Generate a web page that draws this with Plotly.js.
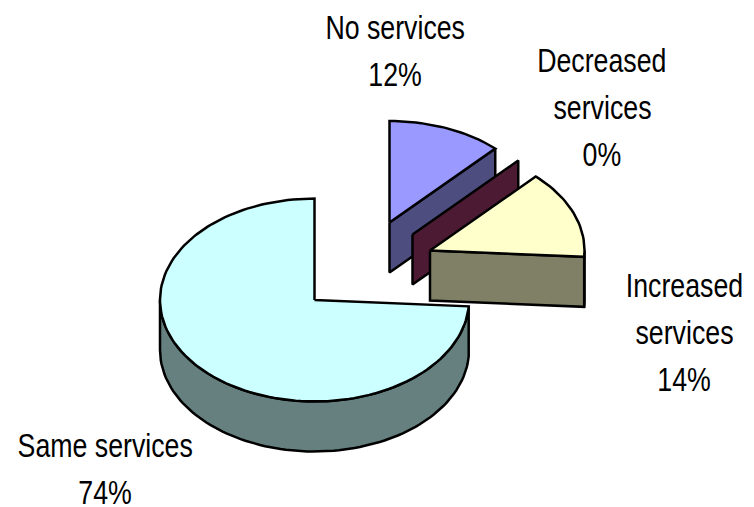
<!DOCTYPE html>
<html>
<head>
<meta charset="utf-8">
<script src="https://cdn.plot.ly/plotly-3.0.1.min.js"></script>
<style>html,body{margin:0;padding:0;background:#fff}#chart{width:754px;height:507px}</style>
</head>
<body>
<div id="chart"></div>
<script>
// Service change shares, clockwise from twelve o'clock
const categories = ["No services", "Decreased services", "Increased services", "Same services"];
const shares = [12, 0, 14, 74];

// Wrapped label lines for each category
const labelLines = [["No services"], ["Decreased", "services"], ["Increased", "services"], ["Same services"]];

const topColors = ["#9999ff", "#ccaacc", "#ffffcc", "#ccffff"];
const sideColors = ["#4d4d80", "#4d1a33", "#808066", "#668080"];

// Exploded pie geometry, in pixel-like axis units
const apexX = [389.5, 412.5, 430, 314.5];
const apexY = [222.5, 234.5, 250.5, 300];
const radiusX = 154.5, radiusY = 101.5, depth = 50;

// Centre of each label block and its line spacing
const labelX = [395, 602, 684, 105];
const labelY = [27, 60, 285, 445];
const lineStep = 47;
const labelSqueeze = 0.81;

const total = shares.reduce((a, b) => a + b, 0);
const traces = [];

function rim(i, from, to, drop) {
  const pts = [];
  const steps = Math.max(1, Math.ceil((to - from) / 2));
  for (let k = 0; k <= steps; k++) {
    const t = (from + (to - from) * k / steps) * Math.PI / 180;
    pts.push([apexX[i] + radiusX * Math.sin(t), apexY[i] - radiusY * Math.cos(t) + drop]);
  }
  return pts;
}

function poly(pts, color) {
  traces.push({
    type: "scatter", mode: "lines", hoverinfo: "skip", showlegend: false,
    x: pts.map(p => p[0]).concat(pts[0][0]),
    y: pts.map(p => p[1]).concat(pts[0][1]),
    fill: "toself", fillcolor: color,
    line: {color: "#000", width: 2.5, shape: "linear"}
  });
}

// The large slice sits behind the pulled-out ones in the drawing order
const order = [3, 0, 1, 2];
const starts = [];
let running = 0;
shares.forEach((v, i) => { starts[i] = running; running += v / total * 360; });

order.forEach(i => {
  const from = starts[i], to = starts[i] + shares[i] / total * 360;

  // Outer wall, only where the rim faces the viewer
  const wallFrom = Math.max(from, 90), wallTo = Math.min(to, 270);
  if (wallTo > wallFrom) {
    poly(rim(i, wallFrom, wallTo, 0).concat(rim(i, wallFrom, wallTo, depth).reverse()), sideColors[i]);
  }
  // Cut face along the clockwise edge of the slice
  if (to < 180) {
    const e = rim(i, to, to, 0)[0];
    poly([[apexX[i], apexY[i]], e, [e[0], e[1] + depth], [apexX[i], apexY[i] + depth]], sideColors[i]);
  }
  // Top surface; a zero share has none worth filling
  if (shares[i] > 0) {
    poly([[apexX[i], apexY[i]]].concat(rim(i, from, to, 0)), topColors[i]);
  }
});

const annotations = [];
categories.forEach((name, i) => {
  labelLines[i].concat(shares[i] + "%").forEach((line, n) => {
    annotations.push({
      x: labelX[i], y: labelY[i] + n * lineStep,
      xref: "x", yref: "y", text: line, showarrow: false,
      xanchor: "center", yanchor: "middle",
      font: {family: "'Liberation Sans',Arial,sans-serif", size: 33, color: "#000"}
    });
  });
});

const hiddenAxis = {visible: false, fixedrange: true, showgrid: false, zeroline: false};
Plotly.newPlot("chart", traces, {
  width: 754, height: 507,
  margin: {l: 0, r: 0, t: 0, b: 0},
  paper_bgcolor: "#fff", plot_bgcolor: "#fff",
  showlegend: false,
  xaxis: Object.assign({range: [0, 754]}, hiddenAxis),
  yaxis: Object.assign({range: [507, 0]}, hiddenAxis),
  annotations
}, {displayModeBar: false, staticPlot: true}).then(gd => {
  // Condense the labels horizontally about their centres, the look of a narrow sans face
  gd.querySelectorAll(".annotation-text").forEach(t => {
    const cx = parseFloat(t.getAttribute("x")) || 0;
    t.setAttribute("transform", `translate(${cx},0) scale(${labelSqueeze},1) translate(${-cx},0)`);
  });
});
</script>
</body>
</html>
